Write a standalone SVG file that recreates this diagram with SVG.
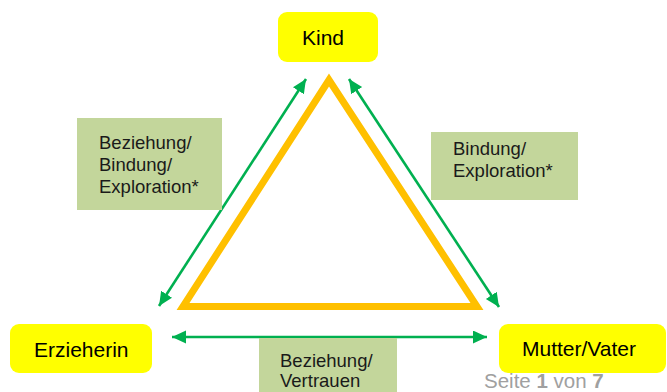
<svg xmlns="http://www.w3.org/2000/svg" width="667" height="392" viewBox="0 0 667 392">
<style>
.node{fill:#FFFF00;}
.nt{font-family:"Liberation Sans",Arial,sans-serif;font-size:21px;fill:#000;}
.lbl{fill:#C3D69B;}
.lt{font-family:"Liberation Sans",Arial,sans-serif;font-size:18.5px;fill:#1a1a1a;}
.arr{stroke:#00B050;stroke-width:2.6;fill:none;marker-start:url(#ah);marker-end:url(#ah);}
.foot{font-family:"Liberation Sans",Arial,sans-serif;font-size:20.5px;fill:#A0A0A0;}
</style>
<defs>
<marker id="ah" markerUnits="userSpaceOnUse" markerWidth="16" markerHeight="14" refX="14" refY="6.5" orient="auto-start-reverse">
<path d="M0,0 L14,6.5 L0,13 Z" fill="#00B050"/>
</marker>
</defs>
<rect width="667" height="392" fill="#fff"/>
<g id="triangle">
<polygon points="329,80 183,306.5 477,306.5" fill="none" stroke="#FFC000" stroke-width="7" stroke-linejoin="miter"/>
</g>
<g id="connectors">
<line class="arr" x1="159" y1="306" x2="306" y2="79"/>
<line class="arr" x1="349" y1="79" x2="499" y2="307"/>
<line class="arr" x1="172" y1="337" x2="487" y2="337"/>
</g>
<g id="label-left">
<rect class="lbl" x="77" y="118" width="145" height="92"/>
<text class="lt" x="99" y="149">Beziehung/</text>
<text class="lt" x="99" y="171">Bindung/</text>
<text class="lt" x="99" y="193">Exploration*</text>
</g>
<g id="label-right">
<rect class="lbl" x="431" y="132" width="147" height="68"/>
<text class="lt" x="453" y="155">Bindung/</text>
<text class="lt" x="453" y="177">Exploration*</text>
</g>
<g id="label-bottom">
<rect class="lbl" x="259" y="338" width="138" height="54"/>
<text class="lt" x="280" y="367">Beziehung/</text>
<text class="lt" x="280" y="387">Vertrauen</text>
</g>
<g id="kind">
<rect class="node" x="278" y="12" width="100" height="50" rx="9"/>
<text class="nt" x="302" y="45">Kind</text>
</g>
<g id="erzieherin">
<rect class="node" x="10" y="324" width="142" height="49" rx="9"/>
<text class="nt" x="34" y="357">Erzieherin</text>
</g>
<g id="mutter-vater">
<rect class="node" x="499" y="324" width="167" height="49" rx="9"/>
<text class="nt" x="522" y="356">Mutter/Vater</text>
</g>
<text class="foot" x="484" y="388">Seite <tspan font-weight="bold">1</tspan> von <tspan font-weight="bold">7</tspan></text>
</svg>
